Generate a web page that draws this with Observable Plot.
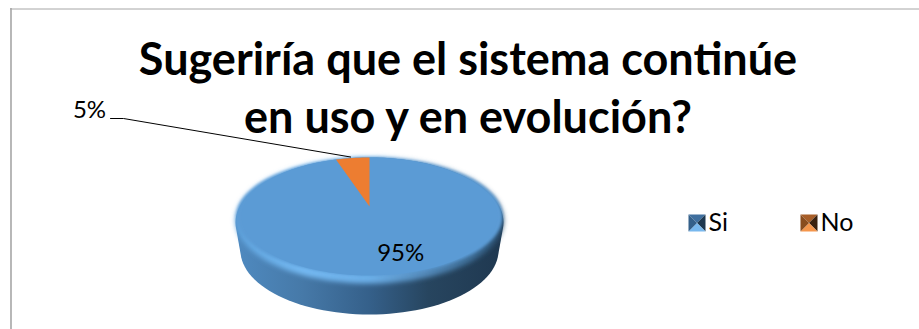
<!DOCTYPE html>
<html lang="es">
<head>
<meta charset="utf-8">
<style>html,body{margin:0;padding:0;background:#fff}svg{display:block}</style>
<script src="https://cdn.jsdelivr.net/npm/d3@7"></script>
<script src="https://cdn.jsdelivr.net/npm/@observablehq/plot@0.6"></script>
</head>
<body>
<div id="chart"></div>
<script>
// Data
const categories = ["Si", "No"];
const shares = [95, 5];
const shareLabels = ["95%", "5%"];
const titleLines = ["Sugeriría que el sistema continúe", "en uso y en evolución?"];

// Series colours
const faceColors = ["#5b9bd5", "#ed7d31"];
const legendShades = [
  {top: "#3f6f9e", left: "#34608a", right: "#1d3850", bottom: "#78b8ee"},
  {top: "#a85e28", left: "#8a4d1e", right: "#3a2210", bottom: "#f5964c"}
];

const W = 919, H = 329, FONT = "Lato, Carlito, Calibri, sans-serif";

// Pie seen in perspective: the circle's centre projects above the middle of its ellipse.
const face = {x0: 369, y0: 206, A: 126, B: 57.3, k: 0.169};
function project(theta, r = 1) {
  const u = r * Math.sin(theta), v = r * Math.cos(theta), d = 1 + face.k * v;
  return {x: face.x0 + face.A * u / d, y: face.y0 - face.B * v / d};
}
const ellipse = (cx, cy, a, b) => d3.range(0, 121).map(i => {
  const t = i / 120 * 2 * Math.PI;
  return {x: cx + a * Math.sin(t), y: cy - b * Math.cos(t)};
});

const arcs = d3.pie().sort(null)(shares);
const slices = arcs.flatMap((a, s) => {
  const n = Math.max(4, Math.ceil((a.endAngle - a.startAngle) * 30));
  const rim = d3.range(n + 1).map(i => project(a.startAngle + (a.endAngle - a.startAngle) * i / n));
  return [project(0, 0), ...rim].map(p => ({...p, category: categories[s], fill: faceColors[s]}));
});

const outerRim = ellipse(369, 220, 134, 63);
const side = [...ellipse(369, 222, 134, 65), ...ellipse(369, 250, 129, 64)];
const sideHull = d3.polygonHull(side.map(p => [p.x, p.y])).map(([x, y]) => ({x, y}));
const faceOutline = ellipse(369, 216, 133, 59);

// Label anchors follow from the slices
const midAngle = a => (a.startAngle + a.endAngle) / 2;
const siAnchor = project(midAngle(arcs[0]), 0.8);
const noAnchor = project(midAngle(arcs[1]), 1);
const leader = [{x: 110, y: 118}, {x: 123, y: 118}, {x: noAnchor.x - 2, y: noAnchor.y - 1}];

// Legend
const legendX = [688, 800], legendY = 214, box = 17;
const legendTris = categories.flatMap((c, i) => {
  const x = legendX[i], y = legendY, m = {x: x + box / 2, y: y + box / 2};
  const a = {x, y}, b = {x: x + box, y}, e = {x: x + box, y: y + box}, f = {x, y: y + box};
  const sh = legendShades[i];
  return [["top", a, b], ["right", b, e], ["bottom", e, f], ["left", f, a]]
    .flatMap(([name, p, q]) => [p, q, m].map(pt => ({...pt, key: c + name, fill: sh[name]})));
});
const legendText = categories.map((c, i) => ({c, x: legendX[i] + box + 3, y: legendY + box / 2}));

const defs = () => {
  const svg = d3.create("svg:g");
  const d = svg.append("defs");
  const grad = (id, stops) => {
    const g = d.append("linearGradient").attr("id", id)
      .attr("gradientUnits", "userSpaceOnUse").attr("x1", 235).attr("x2", 503).attr("y1", 0).attr("y2", 0);
    stops.forEach(([o, c]) => g.append("stop").attr("offset", o).attr("stop-color", c));
  };
  grad("sideGrad", [[0, "#4f8ac0"], [.25, "#4679a8"], [.5, "#35608a"], [.72, "#27455f"], [1, "#1f3850"]]);
  grad("rimGrad", [[0, "#5fa3dd"], [.25, "#74b9f2"], [.5, "#6cafe8"], [.72, "#5288b8"], [.88, "#3d6d96"], [1, "#2c5172"]]);
  const f = (id, sd) => d.append("filter").attr("id", id).attr("x", "-5%").attr("y", "-5%")
    .attr("width", "110%").attr("height", "110%")
    .append("feGaussianBlur").attr("stdDeviation", sd);
  f("soft", 1.6);
  f("softer", 2.4);
  return svg.node();
};
const blurred = id => (i, s, v, dim, c, next) => {
  const g = next(i, s, v, dim, c);
  g.setAttribute("filter", `url(#${id})`);
  return g;
};

const chart = Plot.plot({
  width: W, height: H,
  margin: 0,
  x: {domain: [0, W], range: [0, W], axis: null},
  y: {domain: [0, H], range: [0, H], axis: null},
  style: {background: "#fff", fontFamily: FONT},
  marks: [
    defs,
    Plot.ruleX([10.5], {stroke: "#a6a6a6", strokeWidth: 1.6, y1: 8, y2: H}),
    Plot.ruleY([8.5], {stroke: "#a6a6a6", strokeWidth: 1, x1: 10, x2: W}),
    Plot.line(sideHull, {x: "x", y: "y", fill: "url(#sideGrad)", stroke: "none", curve: "linear-closed"}),
    Plot.line(outerRim, {x: "x", y: "y", fill: "url(#rimGrad)", stroke: "none", curve: "linear-closed", render: blurred("softer")}),
    Plot.line(faceOutline, {x: "x", y: "y", fill: faceColors[0], stroke: "none", curve: "linear-closed", render: blurred("soft")}),
    Plot.line(slices, {x: "x", y: "y", z: "category", fill: "fill", stroke: "none", curve: "linear-closed"}),
    Plot.line(leader, {x: "x", y: "y", stroke: "#000", strokeWidth: 1, curve: "linear"}),
    Plot.text([titleLines.join("\n")], {
      frameAnchor: "top", dx: 8, dy: 33, lineAnchor: "top", lineHeight: 1.29,
      fontSize: 45, fontWeight: 700, fill: "#000", fontFamily: FONT
    }),
    Plot.text([shareLabels[1]], {x: [89], y: [110], fontSize: 24, fill: "#000", fontFamily: FONT}),
    Plot.text([shareLabels[0]], {x: [siAnchor.x + 13], y: [siAnchor.y - 5], fontSize: 24, fill: "#000", fontFamily: FONT}),
    Plot.line(legendTris, {x: "x", y: "y", z: "key", fill: "fill", stroke: "none", curve: "linear-closed"}),
    Plot.text(legendText, {x: "x", y: "y", text: "c", textAnchor: "start", fontSize: 25, fill: "#000", fontFamily: FONT})
  ]
});
document.getElementById("chart").append(chart);
</script>
</body>
</html>
